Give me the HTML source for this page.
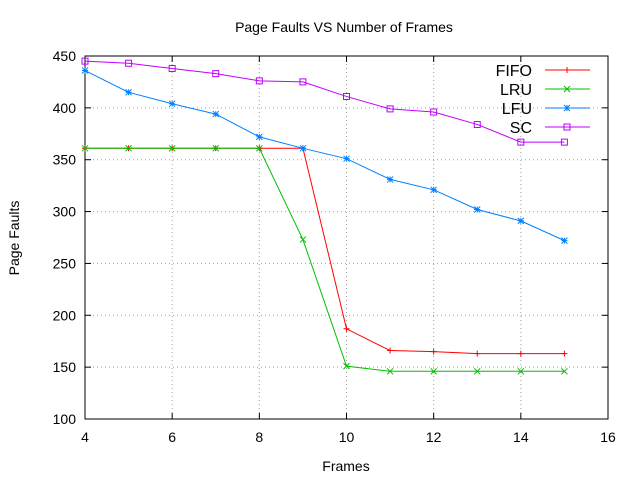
<!DOCTYPE html>
<html><head><meta charset="utf-8"><style>
body{margin:0;background:#fff}
svg text{font-family:"Liberation Sans",sans-serif;font-size:14px;fill:#000}
</style></head><body>
<svg id="chart" width="640" height="480" xmlns="http://www.w3.org/2000/svg">
<rect width="640" height="480" fill="#fff"/>
<g id="grid"></g>
<g id="axes"></g>
<g id="series"></g>
<g id="legend"></g>
<text x="344" y="32" text-anchor="middle">Page Faults VS Number of Frames</text>
<text x="346" y="471" text-anchor="middle">Frames</text>
<text transform="translate(19,238) rotate(-90)" text-anchor="middle">Page Faults</text>
</svg>
<script>
const frames=[4,5,6,7,8,9,10,11,12,13,14,15];
const fifo=[361,361,361,361,361,361,187,166,165,163,163,163];
const lru=[361,361,361,361,361,273,151,146,146,146,146,146];
const lfu=[436,415,404,394,372,361,351,331,321,302,291,272];
const sc=[445,443,438,433,426,425,411,399,396,384,367,367];
const xTicks=[4,6,8,10,12,14,16];
const yTicks=[100,150,200,250,300,350,400,450];
const NS="http://www.w3.org/2000/svg";
const L=85,R=608,T=56,B=419;
const xs=v=>L+(v-4)/(16-4)*(R-L);
const ys=v=>B-(v-100)/(450-100)*(B-T);
function mk(tag,attrs,parent){const e=document.createElementNS(NS,tag);for(const k in attrs)e.setAttribute(k,attrs[k]);parent.appendChild(e);return e;}
const grid=document.getElementById('grid'),axes=document.getElementById('axes'),ser=document.getElementById('series'),leg=document.getElementById('legend');
yTicks.forEach(v=>{const y=ys(v);
 if(v>100&&v<450){const g=mk('line',{x1:L,x2:R,y1:y,y2:y,stroke:'#a0a0a0','stroke-dasharray':'1,3'},grid);}
 const t=mk('line',{x1:L,x2:L+6,y1:y,y2:y,stroke:'#000'},axes);
 const t2=mk('line',{x1:R-6,x2:R,y1:y,y2:y,stroke:'#000'},axes);
 const lb=mk('text',{x:L-9,y:y+5,'text-anchor':'end'},axes);lb.textContent=v;});
xTicks.forEach(v=>{const x=xs(v);
 if(v>4&&v<16){const g=mk('line',{x1:x,x2:x,y1:T,y2:B,stroke:'#a0a0a0','stroke-dasharray':'1,3'},grid);}
 const t=mk('line',{x1:x,x2:x,y1:B,y2:B-6,stroke:'#000'},axes);
 const t2=mk('line',{x1:x,x2:x,y1:T,y2:T+6,stroke:'#000'},axes);
 const lb=mk('text',{x:x,y:B+23,'text-anchor':'middle'},axes);lb.textContent=v;});
const fr=mk('rect',{x:L,y:T,width:R-L,height:B-T,fill:'none',stroke:'#000'},axes);
function marker(kind,x,y,c,p,s){s=s||4;let d;
 if(kind==='plus')d=`M${x-s},${y}H${x+s}M${x},${y-s}V${y+s}`;
 else if(kind==='cross')d=`M${x-s},${y-s}L${x+s},${y+s}M${x-s},${y+s}L${x+s},${y-s}`;
 else if(kind==='star')d=`M${x-s},${y}H${x+s}M${x},${y-s}V${y+s}M${x-s},${y-s}L${x+s},${y+s}M${x-s},${y+s}L${x+s},${y-s}`;
 else d=`M${x-s},${y-s}H${x+s}V${y+s}H${x-s}Z`;
 const m=mk('path',{d:d,stroke:c,fill:'none'},p);}
const list=[['FIFO',fifo,'#ff0000','plus'],['LRU',lru,'#00c000','cross'],['LFU',lfu,'#0080ff','star'],['SC',sc,'#c000ff','square']];
list.forEach(([name,vals,c,k],i)=>{
 const g=mk('g',{},ser);
 const pl=mk('polyline',{points:vals.map((v,j)=>xs(frames[j])+','+ys(v)).join(' '),fill:'none',stroke:c},g);
 vals.forEach((v,j)=>marker(k,xs(frames[j]),ys(v),c,g,3));
 const ly=70+i*19;
 const e=mk('g',{},leg);
 const tx=mk('text',{x:532,y:ly+6,'text-anchor':'end','style':'font-size:16px'},e);tx.textContent=name;
 mk('line',{x1:545,x2:590,y1:ly,y2:ly,stroke:c},e);marker(k,567,ly,c,e,3);
});
</script>
</body></html>
